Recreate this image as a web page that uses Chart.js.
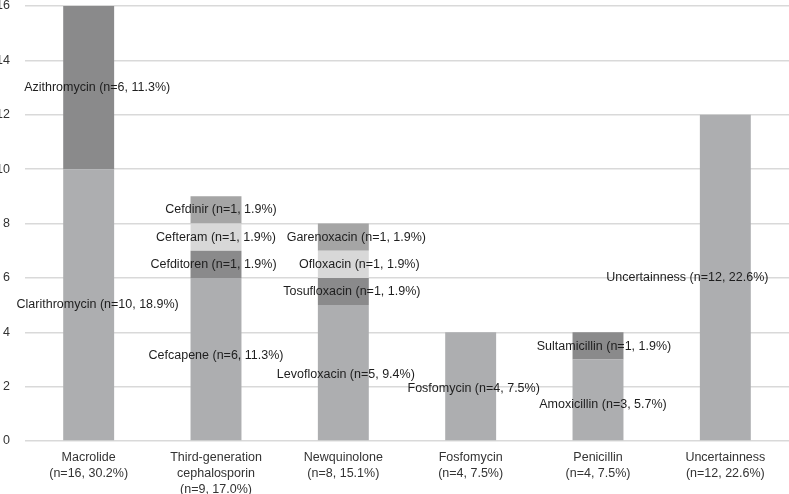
<!DOCTYPE html>
<html>
<head>
<meta charset="utf-8">
<script src="https://cdn.jsdelivr.net/npm/chart.js@4"></script>
<style>
html,body{margin:0;padding:0;background:#fff;}
#wrap{position:relative;width:789px;height:494px;}
</style>
</head>
<body>
<div id="wrap"><canvas id="c"></canvas></div>
<script>
// ---- data ----
const categories = [
  ["Macrolide", "(n=16, 30.2%)"],
  ["Third-generation", "cephalosporin", "(n=9, 17.0%)"],
  ["Newquinolone", "(n=8, 15.1%)"],
  ["Fosfomycin", "(n=4, 7.5%)"],
  ["Penicillin", "(n=4, 7.5%)"],
  ["Uncertainness", "(n=12, 22.6%)"]
];
const level1Values = [10, 6, 5, 4, 3, 12];
const level2Values = [6, 1, 1, 0, 1, 0];
const level3Values = [0, 1, 1, 0, 0, 0];
const level4Values = [0, 1, 1, 0, 0, 0];
const level1Labels = ["Clarithromycin (n=10, 18.9%)", "Cefcapene (n=6, 11.3%)", "Levofloxacin (n=5, 9.4%)", "Fosfomycin (n=4, 7.5%)", "Amoxicillin (n=3, 5.7%)", "Uncertainness (n=12, 22.6%)"];
const level2Labels = ["Azithromycin (n=6, 11.3%)", "Cefditoren (n=1, 1.9%)", "Tosufloxacin (n=1, 1.9%)", "", "Sultamicillin (n=1, 1.9%)", ""];
const level3Labels = ["", "Cefteram (n=1, 1.9%)", "Ofloxacin (n=1, 1.9%)", "", "", ""];
const level4Labels = ["", "Cefdinir (n=1, 1.9%)", "Garenoxacin (n=1, 1.9%)", "", "", ""];
const yTicks = [0, 2, 4, 6, 8, 10, 12, 14, 16];

// ---- styling (label nudges, in pixels) ----
const labelNudge = [
  {dx: [9, 0, 2.5, 3, 5, -38], dy: [0, -4, 2, 2, 5, 0]},
  {dx: [8.5, -2.5, 8.5, 0, 6, 0], dy: [0, 0, 0, 0, 1, 0]},
  {dx: [0, 0, 16, 0, 0, 0], dy: [0, 0, 0, 0, 0, 0]},
  {dx: [0, 5, 13, 0, 0, 0], dy: [0, 0, 0, 0, 0, 0]}
];
const FONT = "Liberation Sans, Arial, sans-serif";

const segLabels = [level1Labels, level2Labels, level3Labels, level4Labels];

const labelPlugin = {
  id: 'segLabels',
  afterDatasetsDraw(chart) {
    const ctx = chart.ctx;
    ctx.save();
    ctx.font = "12.5px " + FONT;
    ctx.fillStyle = "#1e1e1e";
    ctx.textAlign = "center";
    ctx.textBaseline = "middle";
    chart.data.datasets.forEach((ds, di) => {
      const meta = chart.getDatasetMeta(di);
      meta.data.forEach((el, i) => {
        const txt = segLabels[di][i];
        if (!txt || !ds.data[i]) return;
        const p = el.getProps(['x', 'y', 'base'], true);
        const x = p.x + labelNudge[di].dx[i];
        const y = (p.y + p.base) / 2 + labelNudge[di].dy[i];
        ctx.fillText(txt, x, y);
      });
    });
    ctx.restore();
  }
};

const common = {barPercentage: 0.8, categoryPercentage: 0.5, borderWidth: 0};

new Chart(document.getElementById('c'), {
  type: 'bar',
  data: {
    labels: categories,
    datasets: [
      Object.assign({data: level1Values, backgroundColor: '#adaeb0'}, common),
      Object.assign({data: level2Values, backgroundColor: '#8a8a8b'}, common),
      Object.assign({data: level3Values, backgroundColor: '#d8d8d8'}, common),
      Object.assign({data: level4Values, backgroundColor: '#a5a5a5'}, common)
    ]
  },
  options: {
    responsive: true,
    maintainAspectRatio: false,
    animation: false,
    layout: {padding: {left: 0, right: 0, top: 6, bottom: 0}},
    plugins: {legend: {display: false}, tooltip: {enabled: false}},
    scales: {
      x: {
        stacked: true,
        afterFit(scale) { scale.height = 53; scale.paddingLeft = 0; scale.paddingRight = 0; },
        grid: {display: false, drawTicks: false},
        border: {display: false},
        ticks: {
          color: '#333',
          font: {family: FONT, size: 12.5, lineHeight: 1.28},
          padding: 9,
          maxRotation: 0,
          autoSkip: false
        }
      },
      y: {
        stacked: true,
        min: 0,
        max: 16,
        afterFit(scale) { scale.width = 25; scale.paddingTop = 0; scale.paddingBottom = 0; },
        afterBuildTicks(scale) { scale.ticks = yTicks.map(v => ({value: v})); },
        grid: {color: '#d9d9d9', lineWidth: 1.5, drawTicks: false},
        border: {display: false},
        ticks: {
          color: '#333',
          font: {family: FONT, size: 12.5},
          padding: 15
        }
      }
    }
  },
  plugins: [labelPlugin]
});
</script>
</body>
</html>
